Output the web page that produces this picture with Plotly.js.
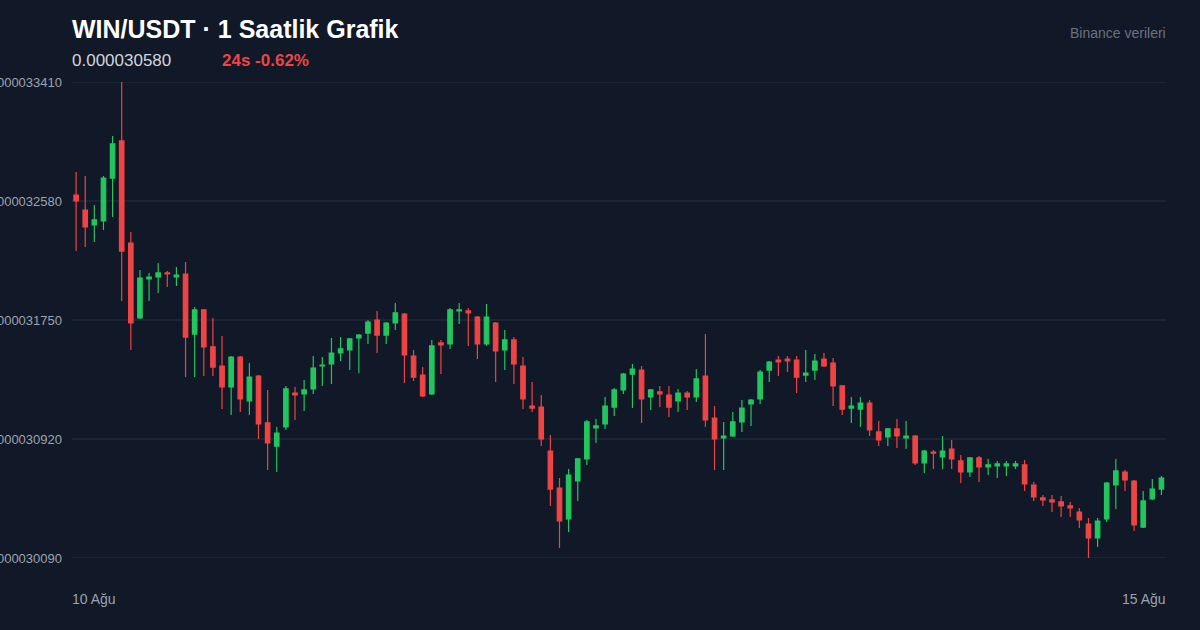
<!DOCTYPE html>
<html>
<head>
<meta charset="utf-8">
<script src="https://cdn.plot.ly/plotly-3.0.1.min.js"></script>
<style>
html,body{margin:0;padding:0;background:#111827;}
#chart{width:1200px;height:630px;}
</style>
</head>
<body>
<div id="chart"></div>
<script>
// WIN/USDT hourly candles (10 Ağu -> 15 Ağu)
const openP = [0.000032622,0.000032517,0.000032413,0.000032441,0.000032740,0.000032999,0.000032287,0.000031764,0.000032036,0.000032050,
0.000032078,0.000032050,0.000032071,0.000031652,0.000031820,0.000031562,0.000031429,0.000031283,0.000031492,0.000031185,
0.000031359,0.000031032,0.000030871,0.000031004,0.000031241,0.000031234,0.000031269,0.000031429,0.000031443,0.000031520,
0.000031541,0.000031625,0.000031659,0.000031750,0.000031645,0.000031729,0.000031792,0.000031499,0.000031366,0.000031234,
0.000031590,0.000031583,0.000031813,0.000031813,0.000031771,0.000031583,0.000031729,0.000031541,0.000031611,0.000031429,
0.000031150,0.000031143,0.000030836,0.000030578,0.000030362,0.000030627,0.000030781,0.000030997,0.000031025,0.000031143,
0.000031262,0.000031373,0.000031401,0.000031213,0.000031248,0.000031227,0.000031185,0.000031241,0.000031213,0.000031359,
0.000031066,0.000030927,0.000030941,0.000031039,0.000031164,0.000031199,0.000031401,0.000031471,0.000031478,0.000031471,
0.000031366,0.000031401,0.000031478,0.000031450,0.000031290,0.000031136,0.000031129,0.000031171,0.000030969,0.000030934,
0.000030990,0.000030927,0.000030941,0.000030753,0.000030829,0.000030795,0.000030850,0.000030767,0.000030690,0.000030788,
0.000030725,0.000030732,0.000030732,0.000030732,0.000030739,0.000030599,0.000030509,0.000030495,0.000030481,0.000030453,
0.000030411,0.000030327,0.000030230,0.000030362,0.000030599,0.000030690,0.000030627,0.000030306,0.000030502,0.000030571];
const highP = [0.000032782,0.000032754,0.000032552,0.000032754,0.000033033,0.000033410,0.000032364,0.000032099,0.000032078,0.000032148,
0.000032092,0.000032120,0.000032155,0.000031841,0.000031827,0.000031764,0.000031638,0.000031499,0.000031499,0.000031450,
0.000031366,0.000031262,0.000031004,0.000031290,0.000031283,0.000031332,0.000031499,0.000031492,0.000031625,0.000031631,
0.000031625,0.000031652,0.000031750,0.000031813,0.000031736,0.000031869,0.000031799,0.000031541,0.000031422,0.000031611,
0.000031611,0.000031834,0.000031869,0.000031834,0.000031778,0.000031862,0.000031736,0.000031680,0.000031631,0.000031492,
0.000031318,0.000031227,0.000030948,0.000030648,0.000030711,0.000030788,0.000031053,0.000031060,0.000031213,0.000031276,
0.000031380,0.000031443,0.000031429,0.000031269,0.000031290,0.000031290,0.000031269,0.000031255,0.000031408,0.000031652,
0.000031150,0.000031039,0.000031108,0.000031192,0.000031199,0.000031401,0.000031464,0.000031499,0.000031499,0.000031499,
0.000031541,0.000031513,0.000031520,0.000031485,0.000031297,0.000031213,0.000031213,0.000031192,0.000031046,0.000030997,
0.000031060,0.000031046,0.000030948,0.000030843,0.000030843,0.000030941,0.000030913,0.000030808,0.000030795,0.000030801,
0.000030781,0.000030767,0.000030767,0.000030767,0.000030774,0.000030620,0.000030529,0.000030529,0.000030522,0.000030481,
0.000030439,0.000030369,0.000030369,0.000030620,0.000030781,0.000030704,0.000030634,0.000030557,0.000030641,0.000030662];
const lowP = [0.000032231,0.000032259,0.000032294,0.000032378,0.000032468,0.000031883,0.000031541,0.000031757,0.000031883,0.000031938,
0.000031980,0.000031987,0.000031352,0.000031352,0.000031359,0.000031359,0.000031129,0.000031087,0.000031108,0.000031087,
0.000030920,0.000030704,0.000030690,0.000030983,0.000031053,0.000031115,0.000031234,0.000031290,0.000031304,0.000031464,
0.000031401,0.000031380,0.000031583,0.000031520,0.000031583,0.000031680,0.000031311,0.000031325,0.000031213,0.000031227,
0.000031373,0.000031548,0.000031722,0.000031569,0.000031478,0.000031569,0.000031318,0.000031401,0.000031304,0.000031129,
0.000031108,0.000030871,0.000030453,0.000030160,0.000030271,0.000030488,0.000030739,0.000030892,0.000030990,0.000031080,
0.000031234,0.000031136,0.000031032,0.000031122,0.000031143,0.000031073,0.000031108,0.000031122,0.000031178,0.000031004,
0.000030704,0.000030704,0.000030934,0.000030969,0.000031011,0.000031164,0.000031318,0.000031359,0.000031387,0.000031241,
0.000031318,0.000031332,0.000031422,0.000031150,0.000031087,0.000031032,0.000031004,0.000030941,0.000030871,0.000030871,
0.000030857,0.000030850,0.000030739,0.000030683,0.000030711,0.000030711,0.000030711,0.000030613,0.000030655,0.000030620,
0.000030669,0.000030648,0.000030662,0.000030711,0.000030557,0.000030488,0.000030453,0.000030411,0.000030376,0.000030376,
0.000030299,0.000030090,0.000030167,0.000030341,0.000030432,0.000030557,0.000030278,0.000030299,0.000030495,0.000030529];
const closeP = [0.000032580,0.000032399,0.000032448,0.000032740,0.000032978,0.000032231,0.000031729,0.000032043,0.000032050,0.000032078,
0.000032071,0.000032064,0.000031631,0.000031820,0.000031562,0.000031422,0.000031283,0.000031492,0.000031199,0.000031352,
0.000031025,0.000030892,0.000030962,0.000031269,0.000031227,0.000031262,0.000031415,0.000031436,0.000031520,0.000031548,
0.000031618,0.000031645,0.000031736,0.000031645,0.000031729,0.000031799,0.000031506,0.000031352,0.000031220,0.000031569,
0.000031576,0.000031820,0.000031820,0.000031799,0.000031583,0.000031771,0.000031534,0.000031611,0.000031443,0.000031199,
0.000031136,0.000030920,0.000030571,0.000030348,0.000030669,0.000030781,0.000031039,0.000031011,0.000031150,0.000031262,
0.000031373,0.000031408,0.000031199,0.000031262,0.000031234,0.000031143,0.000031241,0.000031213,0.000031339,0.000031053,
0.000030920,0.000030941,0.000031039,0.000031136,0.000031192,0.000031387,0.000031457,0.000031457,0.000031464,0.000031352,
0.000031380,0.000031464,0.000031429,0.000031290,0.000031129,0.000031150,0.000031171,0.000030983,0.000030913,0.000030990,
0.000030941,0.000030941,0.000030753,0.000030836,0.000030822,0.000030836,0.000030781,0.000030690,0.000030788,0.000030725,
0.000030739,0.000030746,0.000030746,0.000030746,0.000030606,0.000030516,0.000030495,0.000030481,0.000030453,0.000030439,
0.000030355,0.000030230,0.000030348,0.000030613,0.000030697,0.000030634,0.000030320,0.000030488,0.000030571,0.000030648];
const hourIndex = openP.map((_, i) => i);
const yTickVals = [0.000030090, 0.000030920, 0.000031750, 0.000032580, 0.000033410];
const yTickText = ["0.000030090", "0.000030920", "0.000031750", "0.000032580", "0.000033410"];
const xEdgeLabels = ["10 Ağu", "15 Ağu"];
const titleText = "WIN/USDT · 1 Saatlik Grafik";
const lastPriceText = "0.000030580";
const changeText = "24s -0.62%";
const sourceText = "Binance verileri";

const GREEN = "#22c55e", RED = "#ef4444", GRID = "#243041";
const FONT = "Liberation Sans, Arial, sans-serif";

const trace = {
  type: "candlestick",
  x: hourIndex,
  open: openP, high: highP, low: lowP, close: closeP,
  increasing: {line: {color: GREEN, width: 1.2}, fillcolor: GREEN},
  decreasing: {line: {color: RED, width: 1.2}, fillcolor: RED},
  whiskerwidth: 0,
  hoverinfo: "skip"
};

// grid lines drawn as shapes at each tick value so the edge lines also show
const gridShapes = yTickVals.map(v => ({
  type: "line", xref: "paper", yref: "y", x0: 0, x1: 1, y0: v, y1: v,
  line: {color: GRID, width: 1}, layer: "below"
}));

const layout = {
  width: 1200, height: 630,
  paper_bgcolor: "#111827", plot_bgcolor: "#111827",
  margin: {l: 72, r: 34, t: 82, b: 72},
  showlegend: false,
  font: {family: FONT, color: "#9ca3af"},
  xaxis: {
    range: [-0.45, 119.5], showgrid: false, zeroline: false, showticklabels: false,
    showline: false, rangeslider: {visible: false}, fixedrange: true
  },
  yaxis: {
    range: [0.000030090, 0.000033410], tickvals: yTickVals, ticktext: yTickText,
    showgrid: false, zeroline: false, showline: false,
    tickfont: {size: 13, color: "#9ca3af", family: FONT}, ticks: "", ticklabelstandoff: 9,
    automargin: false, fixedrange: true
  },
  shapes: gridShapes,
  annotations: [
    {xref: "paper", yref: "paper", x: 0, y: 1.1103, xanchor: "left", yanchor: "middle", showarrow: false,
     text: "<b>" + titleText + "</b>", font: {size: 25, color: "#ffffff", family: FONT}, xshift: -2},
    {xref: "paper", yref: "paper", x: 0, y: 1.0462, xanchor: "left", yanchor: "middle", showarrow: false,
     text: lastPriceText, font: {size: 17, color: "#d1d5db", family: FONT}, xshift: -2},
    {xref: "paper", yref: "paper", x: 0.1371, y: 1.0462, xanchor: "left", yanchor: "middle", showarrow: false,
     text: "<b>" + changeText + "</b>", font: {size: 17, color: RED, family: FONT}, xshift: -2},
    {xref: "paper", yref: "paper", x: 1, y: 1.1029, xanchor: "right", yanchor: "middle", showarrow: false,
     text: sourceText, font: {size: 14, color: "#6b7280", family: FONT}, xshift: 2},
    {xref: "paper", yref: "paper", x: 0, y: -0.0861, xanchor: "left", yanchor: "middle", showarrow: false,
     text: xEdgeLabels[0], font: {size: 14, color: "#9ca3af", family: FONT}, xshift: -2},
    {xref: "paper", yref: "paper", x: 1, y: -0.0861, xanchor: "right", yanchor: "middle", showarrow: false,
     text: xEdgeLabels[1], font: {size: 14, color: "#9ca3af", family: FONT}, xshift: 2}
  ]
};

Plotly.newPlot("chart", [trace], layout, {displayModeBar: false, staticPlot: true});
</script>
</body>
</html>
